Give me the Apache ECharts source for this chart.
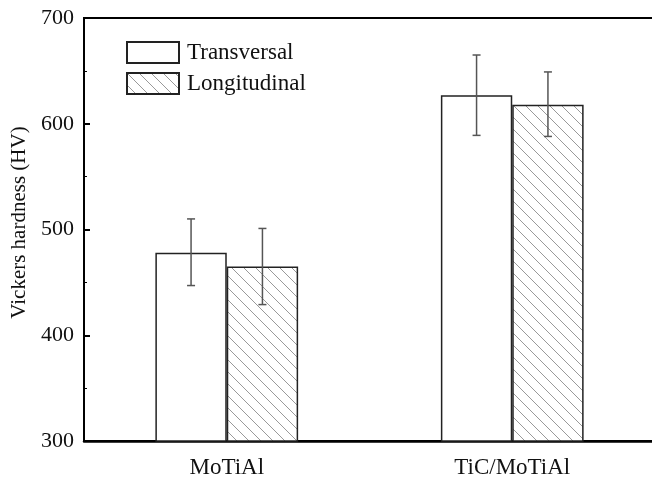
<!DOCTYPE html>
<html>
<head>
<meta charset="utf-8">
<script src="https://cdn.jsdelivr.net/npm/echarts@6/dist/echarts.min.js"></script>
<style>html,body{margin:0;padding:0;background:#fff}#c{width:652px;height:481px}</style>
</head>
<body>
<div id="c"></div>
<script>
const categories = ['MoTiAl', 'TiC/MoTiAl'];
const transversal = [478, 627];
const longitudinal = [465, 618];
const transversalErrLow = [447, 589];
const transversalErrHigh = [510, 665];
const longitudinalErrLow = [429, 588];
const longitudinalErrHigh = [501, 649];
const yTicks = [300, 400, 500, 600, 700];

const FONT = "'Liberation Serif', 'Times New Roman', serif";

function hatch() {
  const s = 12;
  const c = document.createElement('canvas');
  c.width = s; c.height = s;
  const g = c.getContext('2d');
  g.fillStyle = '#fff'; g.fillRect(0, 0, s, s);
  g.strokeStyle = '#999'; g.lineWidth = 1;
  g.beginPath();
  g.moveTo(0, 0); g.lineTo(s, s);
  g.moveTo(-1, s - 1); g.lineTo(1, s + 1);
  g.moveTo(s - 1, -1); g.lineTo(s + 1, 1);
  g.stroke();
  return c;
}

const chart = echarts.init(document.getElementById('c'));

function errSeries(low, high, side) {
  return {
    type: 'custom',
    name: 'err' + side,
    data: categories.map((c, i) => [i, low[i], high[i]]),
    z: 5,
    renderItem: function (params, api) {
      const i = api.value(0);
      const band = api.size([1, 0])[0];
      const pLow = api.coord([i, api.value(1)]);
      const pHigh = api.coord([i, api.value(2)]);
      const x = pLow[0] + side * band * 0.125;
      const cap = 4;
      const style = { stroke: '#555', lineWidth: 1.5 };
      return {
        type: 'group',
        children: [
          { type: 'line', shape: { x1: x, y1: pLow[1], x2: x, y2: pHigh[1] }, style },
          { type: 'line', shape: { x1: x - cap, y1: pLow[1], x2: x + cap, y2: pLow[1] }, style },
          { type: 'line', shape: { x1: x - cap, y1: pHigh[1], x2: x + cap, y2: pHigh[1] }, style }
        ]
      };
    }
  };
}

chart.setOption({
  animation: false,
  grid: { left: 84, top: 18, right: -3, bottom: 40, show: true, borderColor: '#000', borderWidth: 2, outerBoundsMode: 'none', containLabel: false },
  legend: {
    data: ['Transversal', 'Longitudinal'],
    orient: 'vertical',
    left: 126, top: 41,
    itemWidth: 52, itemHeight: 21, itemGap: 8,
    icon: 'rect',
    textStyle: { fontFamily: FONT, fontSize: 23, lineHeight: 21, color: '#111', padding: [0, 0, 0, 3] },
    padding: 0
  },
  xAxis: {
    type: 'category',
    data: categories,
    axisLine: { lineStyle: { color: '#000', width: 2.5 } },
    axisTick: { show: false },
    axisLabel: { fontFamily: FONT, fontSize: 23, color: '#111', margin: 15 }
  },
  yAxis: {
    type: 'value',
    min: yTicks[0], max: yTicks[yTicks.length - 1], interval: 100,
    name: 'Vickers hardness (HV)',
    nameLocation: 'middle',
    nameGap: 50,
    nameTextStyle: { fontFamily: FONT, fontSize: 21, color: '#111', padding: [0, 0, 0, 14] },
    axisLine: { show: true, lineStyle: { color: '#000', width: 2 } },
    axisTick: { show: true, inside: true, length: 6, lineStyle: { color: '#000', width: 2 } },
    minorTick: { show: true, splitNumber: 2, length: 3, lineStyle: { color: '#000', width: 1 } },
    splitLine: { show: false },
    axisLabel: { fontFamily: FONT, fontSize: 22, color: '#111', margin: 10 }
  },
  series: [
    {
      type: 'bar', name: 'Transversal', data: transversal,
      barWidth: '25%', barGap: '0%',
      itemStyle: { color: '#fff', borderColor: '#222', borderWidth: 1.5 }
    },
    {
      type: 'bar', name: 'Longitudinal', data: longitudinal,
      barWidth: '25%', barGap: '0%',
      itemStyle: { color: { image: hatch(), repeat: 'repeat' }, borderColor: '#222', borderWidth: 1.5 }
    },
    errSeries(transversalErrLow, transversalErrHigh, -1),
    errSeries(longitudinalErrLow, longitudinalErrHigh, 1)
  ]
});
</script>
</body>
</html>
